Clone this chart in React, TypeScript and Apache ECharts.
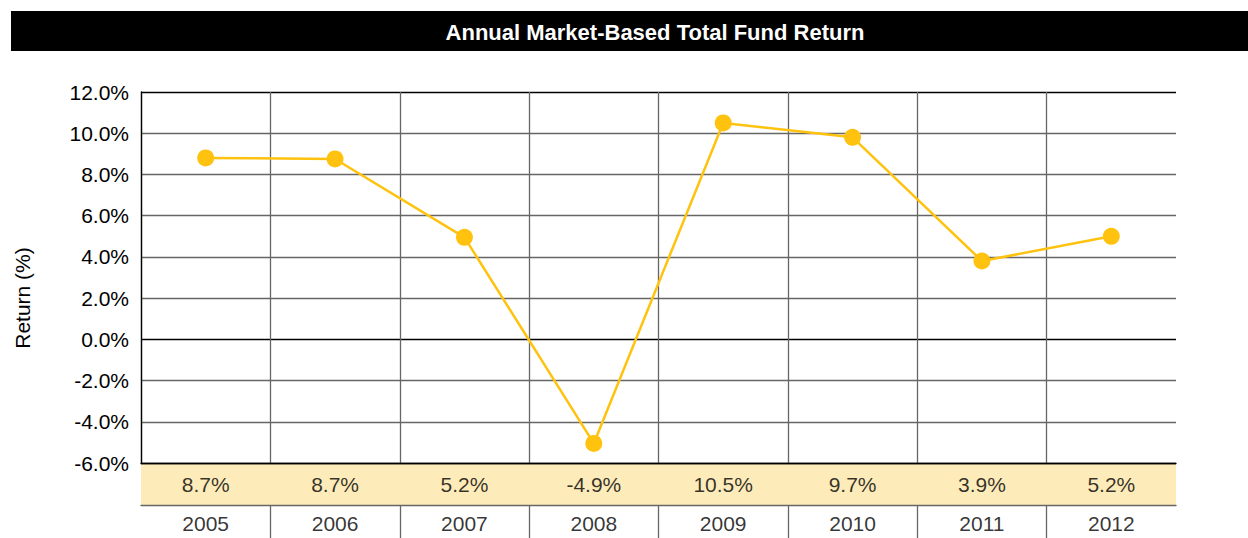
import React, { useEffect, useRef } from "react";
import * as echarts from "echarts";

const years = ["2005", "2006", "2007", "2008", "2009", "2010", "2011", "2012"];
// plotted positions
const returns = [8.8, 8.75, 4.95, -5.05, 10.5, 9.8, 3.8, 5.0];
// table labels as printed
const tableLabels = ["8.7%", "8.7%", "5.2%", "-4.9%", "10.5%", "9.7%", "3.9%", "5.2%"];
const title = "Annual Market-Based Total Fund Return";
const yAxisTitle = "Return (%)";

const FONT = "'Liberation Sans', Arial, Helvetica, sans-serif";

export default function App() {
  const ref = useRef<HTMLDivElement>(null);
  useEffect(() => {
    if (!ref.current) return;
    const chart = echarts.init(ref.current, undefined, { renderer: "svg" });
    const gridLeft = 141;
    const gridRight = 72;
    chart.setOption({
      animation: false,
      backgroundColor: "#ffffff",
      textStyle: { fontFamily: FONT },
      graphic: [
        { type: "rect", shape: { x: 11, y: 11, width: 1237, height: 40 }, style: { fill: "#000000" } },
        {
          type: "text",
          x: 655,
          y: 32,
          style: {
            text: title,
            fill: "#ffffff",
            font: `bold 22px ${FONT}`,
            textAlign: "center",
            textVerticalAlign: "middle",
          },
        },
        {
          type: "text",
          x: 22,
          y: 298,
          rotation: Math.PI / 2,
          style: {
            text: yAxisTitle,
            fill: "#000000",
            font: `21px ${FONT}`,
            textAlign: "center",
            textVerticalAlign: "middle",
          },
        },
      ],
      grid: [
        { left: gridLeft, right: gridRight, top: 92, height: 371 },
        {
          left: gridLeft,
          right: gridRight,
          top: 463,
          height: 42,
          show: true,
          backgroundColor: "#FDEBB9",
          borderWidth: 0,
        },
        { left: gridLeft, right: gridRight, top: 505, height: 33 },
      ],
      xAxis: [
        {
          type: "category",
          gridIndex: 0,
          data: years,
          boundaryGap: true,
          axisLabel: { show: false },
          axisTick: { show: false },
          axisLine: { show: true, onZero: false, lineStyle: { color: "#000000", width: 1.3 } },
          splitLine: { show: true, showMaxLine: false, lineStyle: { color: "#666666", width: 1.3 } },
        },
        {
          type: "category",
          gridIndex: 1,
          data: years,
          boundaryGap: true,
          axisLabel: { show: false },
          axisTick: { show: false },
          axisLine: { show: false },
          splitLine: { show: false },
        },
        {
          type: "category",
          gridIndex: 2,
          position: "top",
          data: years,
          boundaryGap: true,
          axisLabel: { show: false },
          axisTick: { show: false },
          axisLine: { show: true, onZero: false, lineStyle: { color: "#666666", width: 1.3 } },
          splitLine: {
            show: true,
            showMinLine: false,
            showMaxLine: false,
            lineStyle: { color: "#666666", width: 1.3 },
          },
        },
      ],
      yAxis: [
        {
          type: "value",
          gridIndex: 0,
          min: -6,
          max: 12,
          interval: 2,
          axisLine: { show: true, lineStyle: { color: "#000000", width: 1.3 } },
          axisTick: { show: false },
          axisLabel: {
            margin: 12,
            color: "#000000",
            fontSize: 21,
            fontFamily: FONT,
            formatter: (v: number) => v.toFixed(1) + "%",
          },
          splitLine: {
            show: true,
            lineStyle: {
              width: 1.3,
              color: ["#000000", "#666666", "#666666", "#000000", "#666666", "#666666", "#666666", "#666666", "#666666", "#000000"],
            },
          },
        },
        { type: "value", gridIndex: 1, min: 0, max: 1, show: false },
        { type: "value", gridIndex: 2, min: 0, max: 1, show: false },
      ],
      series: [
        {
          type: "line",
          xAxisIndex: 0,
          yAxisIndex: 0,
          data: returns,
          symbol: "circle",
          symbolSize: 17,
          lineStyle: { color: "#FFC20E", width: 2.5 },
          itemStyle: { color: "#FFC20E" },
          z: 5,
        },
        {
          type: "scatter",
          xAxisIndex: 1,
          yAxisIndex: 1,
          symbolSize: 1,
          itemStyle: { color: "rgba(0,0,0,0)" },
          data: years.map((y, i) => ({ value: [y, 0.5], label: { formatter: tableLabels[i] } })),
          label: {
            show: true,
            position: "inside",
            color: "#000000",
            fontSize: 21,
            fontFamily: FONT,
          },
        },
        {
          type: "scatter",
          xAxisIndex: 2,
          yAxisIndex: 2,
          symbolSize: 1,
          itemStyle: { color: "rgba(0,0,0,0)" },
          data: years.map((y) => [y, 0.45]),
          label: {
            show: true,
            position: "inside",
            color: "#000000",
            fontSize: 21,
            fontFamily: FONT,
            formatter: (p: any) => p.value[0],
          },
        },
      ],
    });
    return () => chart.dispose();
  }, []);
  return <div ref={ref} style={{ width: 1248, height: 538, position: "absolute", left: 0, top: 0 }} />;
}
